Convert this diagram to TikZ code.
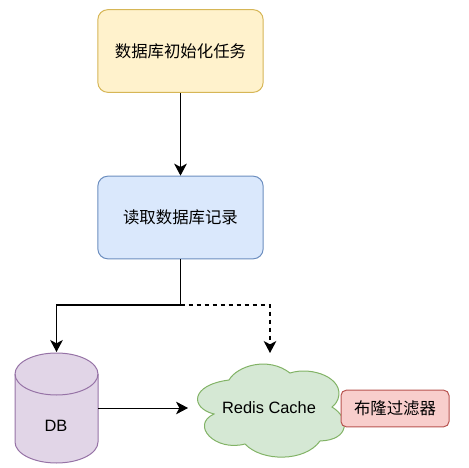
\documentclass[tikz,border=0pt]{standalone}
\usepackage{fontspec}
\setmainfont{Liberation Sans}
\newfontfamily\cjk{Noto Sans CJK SC}
\usetikzlibrary{arrows.meta}
\definecolor{dbfill}{RGB}{225,213,231}
\definecolor{dbline}{RGB}{150,115,166}
\definecolor{cloudfill}{RGB}{213,232,212}
\definecolor{cloudline}{RGB}{130,179,102}
\tikzset{
  taskbox/.style={draw,rounded corners=7.5pt,line width=0.75pt,minimum width=124pt,minimum height=62pt,font=\cjk\fontsize{12.3}{14}\selectfont},
  tagbox/.style={draw,rounded corners=4pt,line width=0.75pt,minimum width=81pt,minimum height=27.5pt,font=\cjk\fontsize{12.3}{14}\selectfont},
  latinlabel/.style={font=\fontsize{12.3}{14}\selectfont},
  flow/.style={line width=1.05pt,-{Stealth[length=9pt,width=9.5pt,inset=2.5pt]}},
}
\begin{document}
\begin{tikzpicture}[x=0.75pt,y=-0.75pt]
  \useasboundingbox (0,0) rectangle (469,468);
  \node[taskbox,fill={rgb,255:red,255;green,242;blue,204},draw={rgb,255:red,214;green,182;blue,86}] (init) at (180.5,51) {数据库初始化任务};
  \node[taskbox,fill={rgb,255:red,218;green,232;blue,252},draw={rgb,255:red,108;green,142;blue,191}] (read) at (180.5,217.5) {读取数据库记录};
  \draw[draw=dbline,fill=dbfill,line width=0.75pt] (15,374) -- (15,442) arc (180:0:41.5 and 21) -- (98,374) arc (0:-180:41.5 and 21) -- cycle;
  \draw[draw=dbline,line width=0.75pt] (15,374) arc (180:0:41.5 and 21);
  \node[latinlabel] (db) at (56,426) {DB};
  \draw[draw=cloudline,fill=cloudfill,line width=0.75pt]
    (229,380) .. controls (237,366) and (268,356) .. (290,373)
    .. controls (312,366) and (345,378) .. (338,399) .. controls (336,404) and (334,405) .. (332,407)
    .. controls (350,418) and (350,440) .. (320,441)
    .. controls (305,462) and (262,462) .. (245,444)
    .. controls (215,452) and (190,425) .. (214,414)
    .. controls (190,408) and (190,385) .. (229,380) -- cycle;
  \node[latinlabel] (redis) at (269,408) {Redis Cache};
  \node[tagbox,fill={rgb,255:red,248;green,206;blue,204},draw={rgb,255:red,184;green,84;blue,80}] (bloom) at (395,408.5) {布隆过滤器};
  \coordinate (dbtop) at (56.5,352);
  \coordinate (dbside) at (98,408);
  \coordinate (split) at (read.south |- 0,305);
  \coordinate (cachein) at (270,353);
  \coordinate (cacheleft) at (188,408);
  \draw[flow] (init) -- (read);
  \draw[flow] (read) -- (split) -| (dbtop);
  \draw[flow,dash pattern=on 3pt off 3pt] (split) -| (cachein);
  \draw[flow,line width=0.75pt] (dbside) -- (cacheleft);
\end{tikzpicture}
\end{document}
